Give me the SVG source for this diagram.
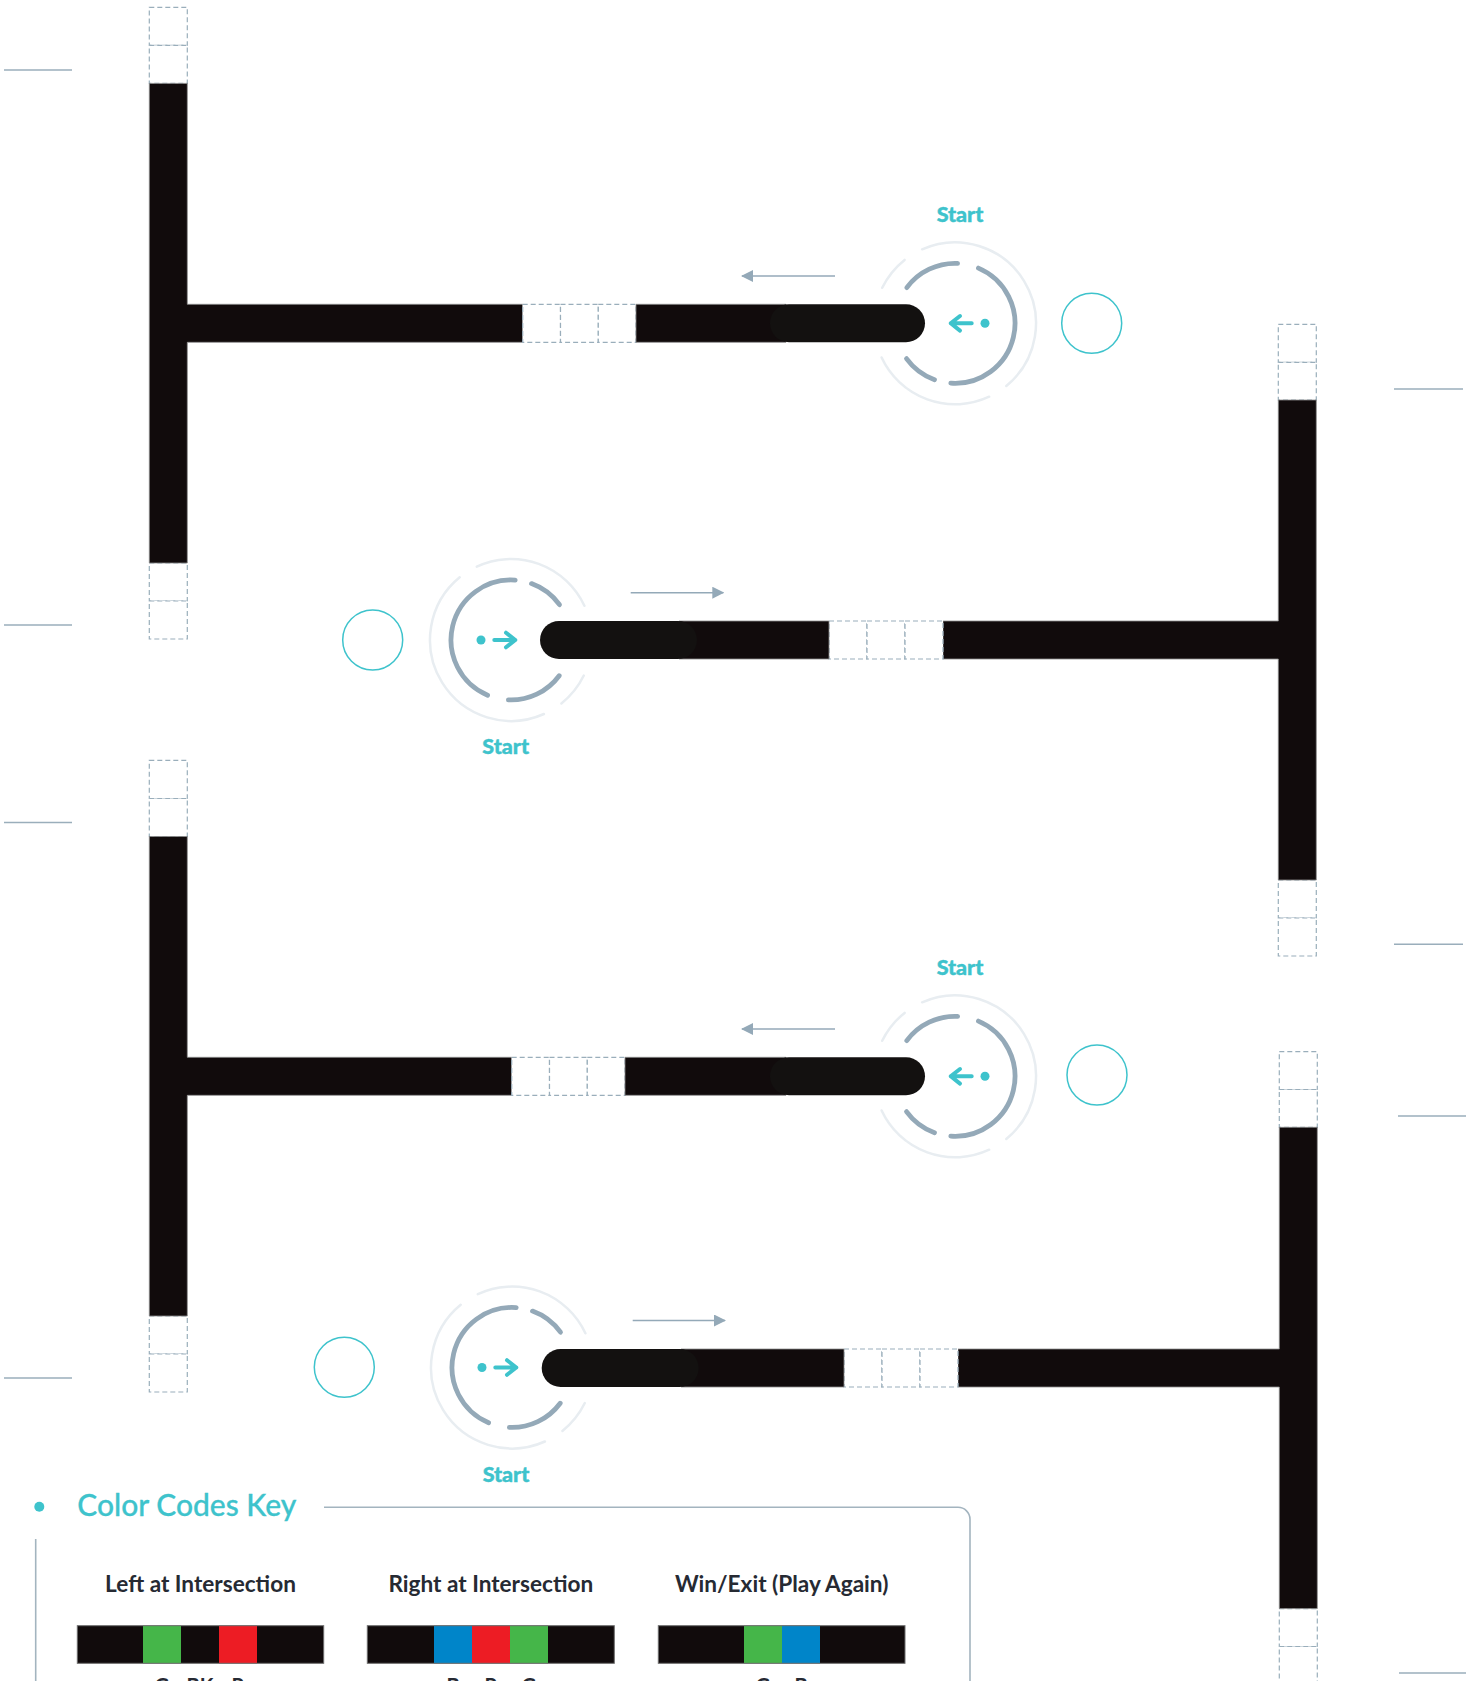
<svg xmlns="http://www.w3.org/2000/svg" xmlns:xlink="http://www.w3.org/1999/xlink" width="1466" height="1681" viewBox="0 0 1466 1681">
<style>
.bar{fill:#110b0c;stroke:#8e8e8e;stroke-width:0.8}
.pill{fill:#131110}
.dash{fill:#fff;stroke:#9aaebb;stroke-width:1.2;stroke-dasharray:5 3}
.side{stroke:#9aaebb;stroke-width:1.6;fill:none}
.ring{fill:none;stroke:#94a9b8;stroke-width:4.8;stroke-linecap:round}
.oring{fill:none;stroke:#e8edf1;stroke-width:2.5;stroke-linecap:round}
.cy{fill:none;stroke:#3ec3cc;stroke-width:4;stroke-linecap:round;stroke-linejoin:round}
.cyc{fill:none;stroke:#3ec3cc;stroke-width:1.5}
.start{font-family:Lato,'Noto Sans',sans-serif;font-weight:900;font-size:21.5px;fill:#3ec3cc;text-anchor:middle;stroke:#3ec3cc;stroke-width:0.4}
.dir{stroke:#94a9b8;stroke-width:1.6;fill:none}
.sub{font-family:Lato,'Noto Sans',sans-serif;font-weight:bold;font-size:22.6px;fill:#262a33;text-anchor:middle}
.lab{font-family:Lato,'Noto Sans',sans-serif;font-weight:bold;font-size:20px;fill:#262a33;text-anchor:middle}
.kline{stroke:#a3b4bf;stroke-width:1.6;fill:none}
</style>
<defs>
<marker id="ah" viewBox="0 0 12 12" refX="11" refY="6" markerWidth="12" markerHeight="12" markerUnits="userSpaceOnUse" orient="auto">
<path d="M0,0 L12,6 L0,12 Z" fill="#94a9b8"/>
</marker>
<g id="marker">
<path class="oring" d="M-72.8,-35.5 A81,81 0 0 1 -50.4,-63.4"/>
<path class="oring" d="M-32.9,-74 A81,81 0 0 1 51.3,62.7"/>
<path class="oring" d="M34.2,73.4 A81,81 0 0 1 -73.4,34.2"/>
<path class="ring" d="M-48.2,-35.7 A60,60 0 0 1 2.6,-59.9"/>
<path class="ring" d="M23.4,-55.2 A60,60 0 0 1 -4.2,59.9"/>
<path class="ring" d="M-20.5,56.4 A60,60 0 0 1 -48.5,35.3"/>
<path class="cy" d="M16.7,0 H-4.3 M5,-7.3 L-4.3,0 L5,7.3"/>
<circle cx="30" cy="0" r="4.5" fill="#3ec3cc"/>
</g>
</defs>
<rect width="1466" height="1681" fill="#fff"/>

<g id="track1">
<rect class="dash" x="149.3" y="7.3" width="38" height="38.1"/>
<rect class="dash" x="149.3" y="45.4" width="38" height="38"/>
<rect class="dash" x="149.3" y="563" width="38" height="38"/>
<rect class="dash" x="149.3" y="601" width="38" height="38"/>
<path class="bar" d="M149.3,83.4 H187.3 V304.3 H522.7 V342.3 H187.3 V563 H149.3 Z"/>
<rect class="dash" x="522.7" y="304.3" width="37.8" height="38"/>
<rect class="dash" x="560.5" y="304.3" width="37.8" height="38"/>
<rect class="dash" x="598.3" y="304.3" width="37.7" height="38"/>
<path class="bar" d="M636,304.3 H786 V342.3 H636 Z"/>
<rect class="pill" x="770" y="304.3" width="155" height="38" rx="19"/>
</g>

<g id="track2">
<rect class="dash" x="1278.3" y="324.3" width="38" height="38"/>
<rect class="dash" x="1278.3" y="362.3" width="38" height="37.7"/>
<rect class="dash" x="1278.3" y="880" width="38" height="38"/>
<rect class="dash" x="1278.3" y="918" width="38" height="38"/>
<path class="bar" d="M1316.3,400 V880 H1278.3 V659 H943 V621 H1278.3 V400 Z"/>
<rect class="dash" x="829" y="621" width="38" height="38"/>
<rect class="dash" x="867" y="621" width="38" height="38"/>
<rect class="dash" x="905" y="621" width="38" height="38"/>
<path class="bar" d="M679,621 H829 V659 H679 Z"/>
<rect class="pill" x="540" y="621" width="157" height="38" rx="19"/>
</g>

<g id="track3">
<rect class="dash" x="149.3" y="760.3" width="38" height="38.2"/>
<rect class="dash" x="149.3" y="798.5" width="38" height="38"/>
<rect class="dash" x="149.3" y="1316" width="38" height="38"/>
<rect class="dash" x="149.3" y="1354" width="38" height="38"/>
<path class="bar" d="M149.3,836.5 H187.3 V1057.3 H511.7 V1095.3 H187.3 V1316 H149.3 Z"/>
<rect class="dash" x="511.7" y="1057.3" width="37.8" height="38"/>
<rect class="dash" x="549.5" y="1057.3" width="37.8" height="38"/>
<rect class="dash" x="587.3" y="1057.3" width="37.7" height="38"/>
<path class="bar" d="M625,1057.3 H786 V1095.3 H625 Z"/>
<rect class="pill" x="770" y="1057.3" width="155" height="38" rx="19"/>
</g>

<g id="track4">
<rect class="dash" x="1279.3" y="1051.7" width="38" height="37.8"/>
<rect class="dash" x="1279.3" y="1089.5" width="38" height="37.8"/>
<rect class="dash" x="1279.3" y="1608.6" width="38" height="37.9"/>
<rect class="dash" x="1279.3" y="1646.5" width="38" height="38"/>
<path class="bar" d="M1317.3,1127.3 V1608.6 H1279.3 V1387 H958 V1349 H1279.3 V1127.3 Z"/>
<rect class="dash" x="844" y="1349" width="38" height="38"/>
<rect class="dash" x="882" y="1349" width="38" height="38"/>
<rect class="dash" x="920" y="1349" width="38" height="38"/>
<path class="bar" d="M681,1349 H844 V1387 H681 Z"/>
<rect class="pill" x="541.7" y="1349" width="157" height="38" rx="19"/>
</g>

<g id="side-lines">
<line class="side" x1="4" y1="70" x2="72" y2="70"/>
<line class="side" x1="4" y1="625" x2="72" y2="625"/>
<line class="side" x1="4" y1="822.5" x2="72" y2="822.5"/>
<line class="side" x1="4" y1="1378" x2="72" y2="1378"/>
<line class="side" x1="1394" y1="389" x2="1463" y2="389"/>
<line class="side" x1="1394" y1="944.3" x2="1463" y2="944.3"/>
<line class="side" x1="1398" y1="1116" x2="1466" y2="1116"/>
<line class="side" x1="1399" y1="1673" x2="1466" y2="1673"/>
</g>

<g id="start1">
<use xlink:href="#marker" href="#marker" transform="translate(955,323.3)"/>
<text class="start" x="960" y="222.3">Start</text>
</g>
<g id="start2">
<use xlink:href="#marker" href="#marker" transform="translate(511,640) rotate(180)"/>
<text class="start" x="505.7" y="754">Start</text>
</g>
<g id="start3">
<use xlink:href="#marker" href="#marker" transform="translate(955,1076.3)"/>
<text class="start" x="960" y="975.3">Start</text>
</g>
<g id="start4">
<use xlink:href="#marker" href="#marker" transform="translate(512,1367.5) rotate(180)"/>
<text class="start" x="506" y="1482">Start</text>
</g>

<g id="targets">
<circle class="cyc" cx="1091.7" cy="323.3" r="30"/>
<circle class="cyc" cx="372.7" cy="640" r="30"/>
<circle class="cyc" cx="1097" cy="1075" r="30"/>
<circle class="cyc" cx="344.3" cy="1367.3" r="30"/>
</g>

<g id="connectors">
<line class="dir" x1="835" y1="276" x2="742" y2="276" marker-end="url(#ah)"/>
<line class="dir" x1="630.7" y1="592.7" x2="723.3" y2="592.7" marker-end="url(#ah)"/>
<line class="dir" x1="835" y1="1029" x2="742" y2="1029" marker-end="url(#ah)"/>
<line class="dir" x1="632.7" y1="1320.5" x2="725" y2="1320.5" marker-end="url(#ah)"/>
</g>

<g id="key">
<circle cx="39.3" cy="1506.7" r="5" fill="#3ec3cc"/>
<text x="77.3" y="1515.7" font-family="Lato,'Noto Sans',sans-serif" font-size="30" font-weight="500" fill="#3ec3cc" stroke="#3ec3cc" stroke-width="0.3">Color Codes Key</text>
<path class="kline" d="M324,1507.3 H958 A12,12 0 0 1 970,1519.3 V1690"/>
<line class="kline" x1="35.7" y1="1539" x2="35.7" y2="1690"/>
<text class="sub" x="200.5" y="1591.7">Left at Intersection</text>
<text class="sub" x="490.8" y="1591.7">Right at Intersection</text>
<text class="sub" x="781.7" y="1591.7">Win/Exit (Play Again)</text>
<g id="bar-left">
<rect x="77.3" y="1625.7" width="246.4" height="37.6" fill="#110b0c"/>
<rect x="143" y="1625.7" width="38" height="37.6" fill="#45b649"/>
<rect x="219" y="1625.7" width="38" height="37.6" fill="#ed1c24"/>
<rect x="77.3" y="1625.7" width="246.4" height="37.6" fill="none" stroke="#6d6d6d" stroke-width="1"/>
</g>
<g id="bar-right">
<rect x="367.3" y="1625.7" width="247" height="37.6" fill="#110b0c"/>
<rect x="434" y="1625.7" width="38" height="37.6" fill="#0085c9"/>
<rect x="472" y="1625.7" width="38" height="37.6" fill="#ed1c24"/>
<rect x="510" y="1625.7" width="38" height="37.6" fill="#45b649"/>
<rect x="367.3" y="1625.7" width="247" height="37.6" fill="none" stroke="#6d6d6d" stroke-width="1"/>
</g>
<g id="bar-win">
<rect x="658.3" y="1625.7" width="246.7" height="37.6" fill="#110b0c"/>
<rect x="744" y="1625.7" width="38" height="37.6" fill="#45b649"/>
<rect x="782" y="1625.7" width="38" height="37.6" fill="#0085c9"/>
<rect x="658.3" y="1625.7" width="246.7" height="37.6" fill="none" stroke="#6d6d6d" stroke-width="1"/>
</g>
<text class="lab" x="162" y="1693">G</text>
<text class="lab" x="200" y="1693">BK</text>
<text class="lab" x="238" y="1693">R</text>
<text class="lab" x="453" y="1693">B</text>
<text class="lab" x="491" y="1693">R</text>
<text class="lab" x="529" y="1693">G</text>
<text class="lab" x="763" y="1693">G</text>
<text class="lab" x="801" y="1693">B</text>
</g>
</svg>
